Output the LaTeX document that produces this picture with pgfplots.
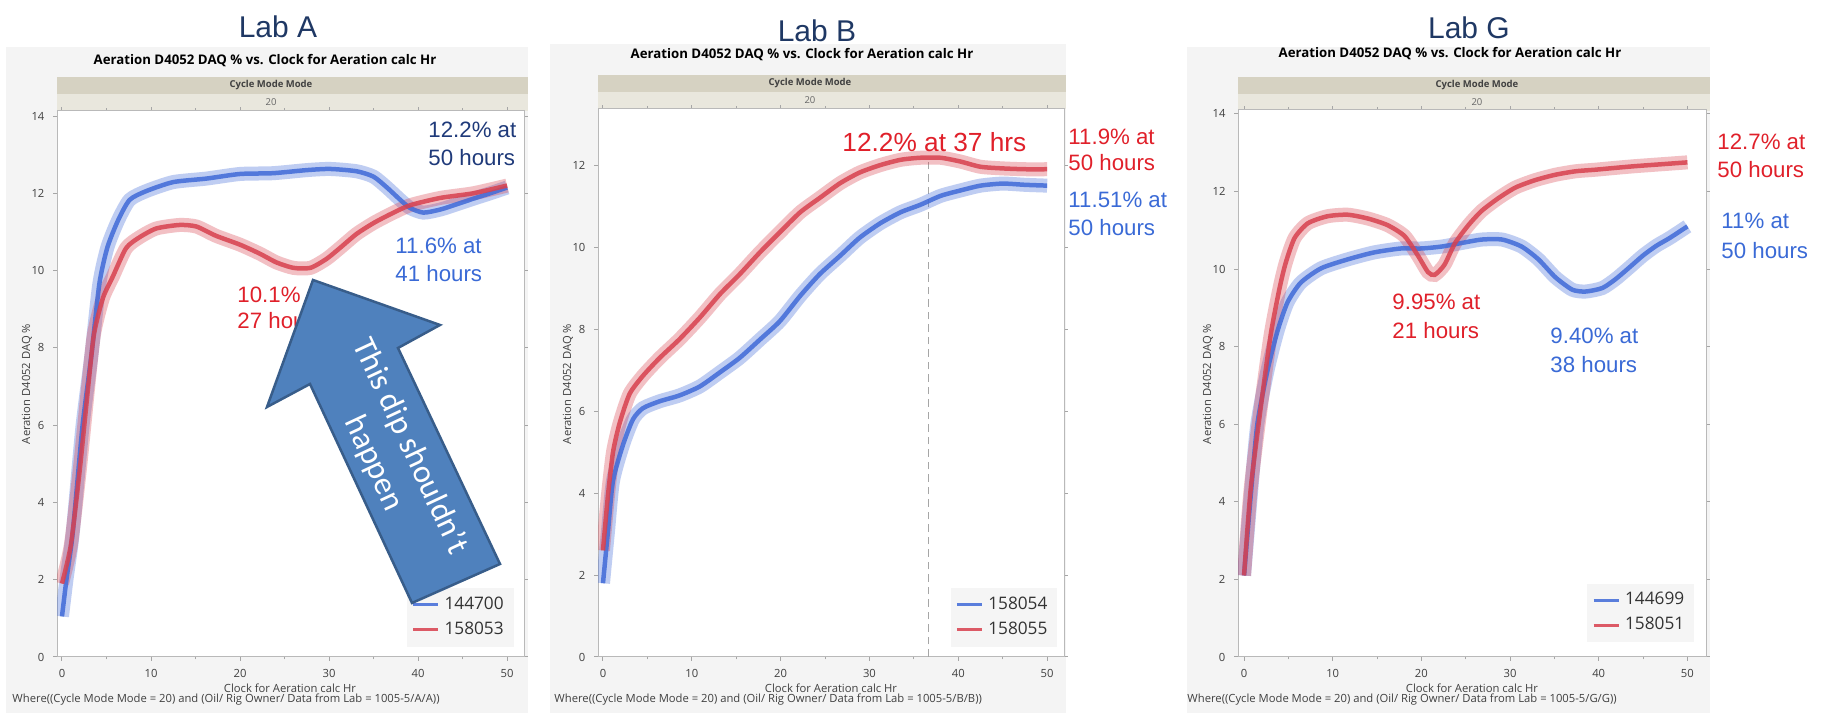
\documentclass[border=0pt]{standalone}
\usepackage{pgfplots}
\usepackage{pgfplotstable}
\pgfplotsset{compat=1.18}
\usepackage{fontspec}
\setmainfont{Liberation Sans}
\newfontfamily\jmp{Open Sans}
\newfontfamily\ofc{Carlito}

\definecolor{dBlue}{HTML}{3F6AD8}
\definecolor{dRed}{HTML}{D8404E}
\definecolor{aRed}{HTML}{E0202A}
\definecolor{aBlue}{HTML}{3A6AD6}
\definecolor{aNavy}{HTML}{1F3A7A}
\definecolor{labNavy}{HTML}{1F3864}
\definecolor{panelBg}{HTML}{F4F4F4}
\definecolor{bandA}{HTML}{D6D2C2}
\definecolor{bandB}{HTML}{E9E7DD}
\definecolor{arrowFill}{HTML}{4F81BD}
\definecolor{arrowLine}{HTML}{385D8A}
\definecolor{tickGray}{HTML}{404040}

% Lab A
\pgfplotstableread{
x y
0 1.05
0.5 2.0
1.2 3.2
2.3 5.96
3.3 7.8
4.2 9.66
5.1 10.6
6.3 11.3
7.6 11.83
9.5 12.06
12.5 12.29
16.2 12.38
20 12.5
23.7 12.52
27.5 12.6
30.1 12.63
33.1 12.57
35 12.43
36.5 12.15
38 11.83
39.1 11.62
40.6 11.5
42.5 11.58
44.4 11.72
46.2 11.86
48.1 12.0
50 12.15
}\labAblue
\pgfplotstableread{
x y
0 1.9
1 2.9
2 4.85
2.9 6.9
3.6 8.36
4.6 9.29
5.7 9.84
7.2 10.58
8.7 10.86
10.6 11.09
13.2 11.18
15.1 11.14
17.3 10.9
20 10.67
22.2 10.44
24.1 10.21
26 10.07
27.9 10.07
29.7 10.3
31.2 10.58
33.1 10.95
35 11.23
36.9 11.46
39.1 11.69
42.5 11.88
46.2 12.0
50 12.2
}\labAred
% Lab B
\pgfplotstableread{
x y
0 1.8
0.56 3.06
1.13 4.3
2.26 5.18
3.38 5.8
4.5 6.07
6.4 6.24
8.6 6.38
10.9 6.6
13.2 6.95
15.4 7.3
17.7 7.75
19.9 8.19
22.2 8.81
24.4 9.34
26.7 9.79
28.9 10.23
31.2 10.58
33.5 10.85
35.7 11.03
38 11.25
40.2 11.38
42.5 11.5
45 11.55
47.5 11.52
50 11.5
}\labBblue
\pgfplotstableread{
x y
0 2.6
0.56 3.94
1.13 5.0
1.88 5.71
3 6.42
4.5 6.86
6.4 7.3
8.6 7.75
10.9 8.28
13.2 8.86
15.4 9.34
17.7 9.88
19.9 10.36
22.2 10.85
24.4 11.2
26.7 11.56
28.9 11.82
31.2 12.0
33.5 12.13
35.7 12.18
38 12.18
40.2 12.09
42.5 11.96
45 11.92
47.5 11.9
50 11.9
}\labBred
% Lab G
\pgfplotstableread{
x y
0 2.1
0.75 4.15
1.5 6.0
2.64 7.38
3.77 8.4
4.9 9.14
6.4 9.65
8.7 10.02
11.7 10.25
14.7 10.43
17.7 10.53
20 10.53
22.3 10.58
24.5 10.67
26.8 10.76
29.1 10.76
31.3 10.58
33.2 10.25
35.1 9.79
37 9.47
38.5 9.42
40.4 9.51
41.9 9.74
43.5 10.05
45 10.35
46.5 10.6
48 10.8
50 11.1
}\labGblue
\pgfplotstableread{
x y
0 2.1
0.75 4.33
1.9 6.46
3 8.3
4 9.5
4.7 10.16
5.7 10.8
7.2 11.18
9.4 11.36
11.7 11.4
14 11.3
16.2 11.13
18.1 10.85
19.6 10.35
20.75 9.92
21.5 9.85
22.6 10.11
23.8 10.67
25.3 11.13
26.8 11.5
28.7 11.83
30.6 12.1
32.8 12.29
35.1 12.43
37.4 12.52
39.6 12.56
41.5 12.6
44 12.65
47 12.7
50 12.75
}\labGred

\pgfplotsset{
  jmp/.style={
    scale only axis, anchor=south west,
    xmin=-0.56, xmax=51.9, ymin=0,
    xtick={0,10,...,50}, minor xtick={5,15,...,45},
    tick align=outside, major tick length=1.5pt, minor tick length=1pt,
    tick style={gray!70, thin}, axis line style={gray!55},
    /pgf/number format/assume math mode=true,
    tick label style={font=\jmp\fontsize{4.5}{5}\selectfont, text=tickGray},
    axis background/.style={fill=white},
    legend cell align=left,
    legend image code/.code={\draw[line width=1.1pt] (0pt,0pt) -- (10pt,0pt);},
    legend style={fill=gray!8, draw=none, font=\jmp\fontsize{6.9}{8}\selectfont,
      text=black!80, inner xsep=2pt, inner ysep=1.5pt, row sep=-0.5pt, anchor=south east},
  },
  band/.style={line width=5.6pt, opacity=0.33, smooth, tension=0.4, forget plot},
  core/.style={line width=1.8pt, opacity=0.85, smooth, tension=0.4},
}

\newcommand{\ann}[4]{\node[anchor=west, inner sep=0, text=#1, font=\fontsize{8.9}{10}\selectfont] at (#2,#3) {#4};}

\begin{document}
\begin{tikzpicture}
\path[use as bounding box] (0,0) rectangle (728.4pt,285.2pt);

% panel backgrounds and header bands
\begin{scope}[x=0.4pt,y=0.4pt]
  \fill[panelBg] (6,0) rectangle (528,666);
  \fill[panelBg] (550,0) rectangle (1066,669);
  \fill[panelBg] (1187,0) rectangle (1710,666);
  \fill[bandA] (57,619) rectangle (528,636);
  \fill[bandB] (57,602) rectangle (528,619);
  \fill[bandA] (598,621) rectangle (1066,638);
  \fill[bandB] (598,604) rectangle (1066,621);
  \fill[bandA] (1238,619) rectangle (1710,636);
  \fill[bandB] (1238,602) rectangle (1710,619);
\end{scope}

% Lab A
\begin{axis}[jmp, at={(22.8pt,22.4pt)}, width=186.8pt, height=218.4pt,
    ymax=14.13, ytick={0,2,...,14},
    legend style={at={(0.979,0.018)}}]
  \addplot[band, dBlue] table {\labAblue};
  \addplot[band, dRed] table {\labAred};
  \addplot[core, dBlue] table {\labAblue};
  \addplot[core, dRed] table {\labAred};
  \legend{144700,158053}
\end{axis}

% Lab B
\begin{axis}[jmp, at={(239.2pt,22.4pt)}, width=186.4pt, height=219.2pt,
    ymax=13.37, ytick={0,2,...,12},
    legend style={at={(0.987,0.018)}}]
  \addplot[gray!70, densely dashed, thin, forget plot] coordinates {(36.7,0) (36.7,12.1)};
  \addplot[band, dBlue] table {\labBblue};
  \addplot[band, dRed] table {\labBred};
  \addplot[core, dBlue] table {\labBblue};
  \addplot[core, dRed] table {\labBred};
  \legend{158054,158055}
\end{axis}

% Lab G
\begin{axis}[jmp, at={(495.2pt,22.4pt)}, width=187.2pt, height=218.8pt,
    xmin=-0.68, xmax=52.1, ymax=14.1, ytick={0,2,...,14},
    legend style={at={(0.976,0.026)}}]
  \addplot[band, dBlue] table {\labGblue};
  \addplot[band, dRed] table {\labGred};
  \addplot[core, dBlue] table {\labGblue};
  \addplot[core, dRed] table {\labGred};
  \legend{144699,158051}
\end{axis}

\begin{scope}[x=0.4pt,y=0.4pt]
  % big titles
  \node[text=labNavy, font=\fontsize{12}{14}\selectfont] at (278,686) {Lab A};
  \node[text=labNavy, font=\fontsize{12}{14}\selectfont] at (817,682) {Lab B};
  \node[text=labNavy, font=\fontsize{12}{14}\selectfont] at (1469,685) {Lab G};
  % chart titles
  \foreach \cx/\cy in {265/652, 802/658, 1450/659}
    \node[font=\jmp\bfseries\fontsize{5.3}{6}\selectfont] at (\cx,\cy) {Aeration D4052 DAQ \% vs. Clock for Aeration calc Hr};
  % band texts
  \foreach \cx/\cy in {271/627.5, 810/629.5, 1477/627.5}
    \node[font=\jmp\bfseries\fontsize{3.8}{4}\selectfont, text=black!75] at (\cx,\cy) {Cycle Mode Mode};
  \foreach \cx/\cy in {271/610.5, 810/612.5, 1477/610.5}
    \node[font=\jmp\fontsize{3.8}{4}\selectfont, text=black!60] at (\cx,\cy) {20};
  % axis titles
  \foreach \cx in {27, 568, 1208}
    \node[rotate=90, font=\jmp\fontsize{4.5}{5}\selectfont, text=tickGray] at (\cx,329) {Aeration D4052 DAQ \%};
  \foreach \cx in {290, 831, 1472}
    \node[font=\jmp\fontsize{4.5}{5}\selectfont, text=tickGray] at (\cx,25) {Clock for Aeration calc Hr};
  \node[anchor=west, inner sep=0, font=\jmp\fontsize{4.5}{5}\selectfont, text=tickGray] at (12,13)
    {Where((Cycle Mode Mode = 20) and (Oil/ Rig Owner/ Data from Lab = 1005-5/A/A))};
  \node[anchor=west, inner sep=0, font=\jmp\fontsize{4.5}{5}\selectfont, text=tickGray] at (554,13)
    {Where((Cycle Mode Mode = 20) and (Oil/ Rig Owner/ Data from Lab = 1005-5/B/B))};
  \node[anchor=west, inner sep=0, font=\jmp\fontsize{4.5}{5}\selectfont, text=tickGray] at (1187,13)
    {Where((Cycle Mode Mode = 20) and (Oil/ Rig Owner/ Data from Lab = 1005-5/G/G))};

  % Lab A notes
  \ann{aNavy}{428}{583}{12.2\% at}
  \ann{aNavy}{428}{555}{50 hours}
  \ann{aBlue}{395}{467}{11.6\% at}
  \ann{aBlue}{395}{439}{41 hours}
  \ann{aRed}{237}{418}{10.1\% at}
  \ann{aRed}{237}{392}{27 hours}
  % arrow
  \filldraw[fill=arrowFill, draw=arrowLine, line width=1pt, line join=miter]
    (313,433) -- (440,388) -- (398,365) -- (500,149) -- (412,110) -- (310,329) -- (267,306) -- cycle;
  \node[rotate=-65, text=white, align=center, font=\ofc\fontsize{13}{16}\selectfont] at (392,258)
    {This dip shouldn’t\\happen};

  % Lab B notes
  \node[anchor=west, inner sep=0, text=aRed, font=\fontsize{10.5}{12}\selectfont] at (842,571) {12.2\% at 37 hrs};
  \ann{aRed}{1068}{576}{11.9\% at}
  \ann{aRed}{1068}{550}{50 hours}
  \ann{aBlue}{1068}{513}{11.51\% at}
  \ann{aBlue}{1068}{485}{50 hours}

  % Lab G notes
  \ann{aRed}{1717}{571}{12.7\% at}
  \ann{aRed}{1717}{543}{50 hours}
  \ann{aBlue}{1721}{492}{11\% at}
  \ann{aBlue}{1721}{462}{50 hours}
  \ann{aRed}{1392}{411}{9.95\% at}
  \ann{aRed}{1392}{382}{21 hours}
  \ann{aBlue}{1550}{377}{9.40\% at}
  \ann{aBlue}{1550}{348}{38 hours}
\end{scope}
\end{tikzpicture}
\end{document}
